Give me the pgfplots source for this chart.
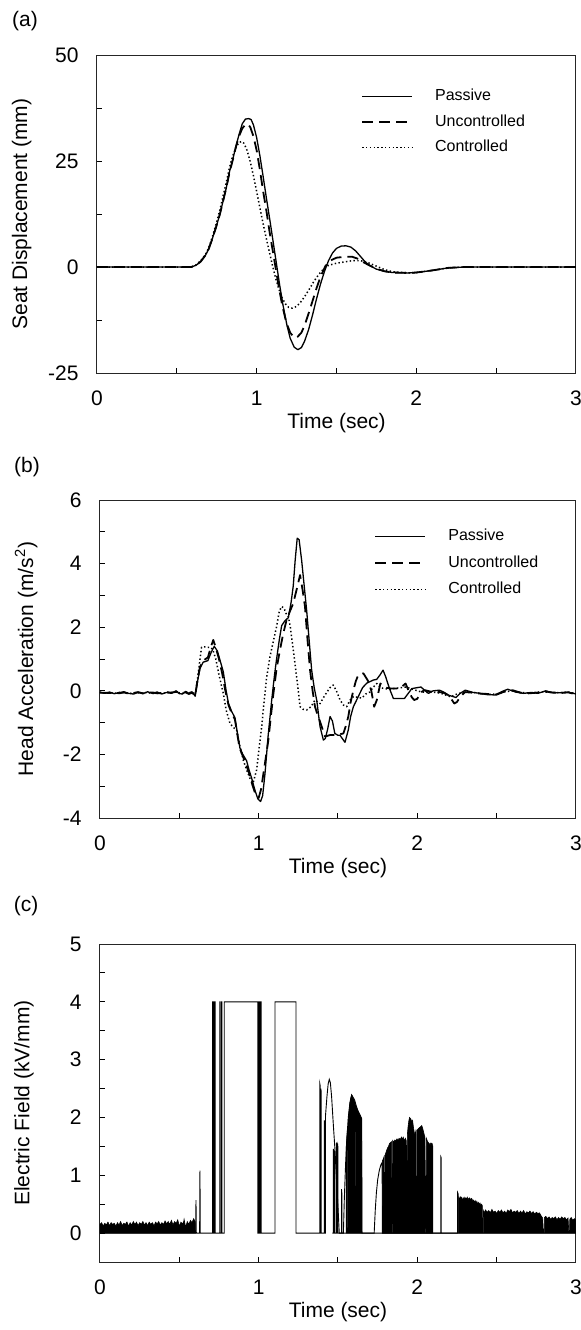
\documentclass[border=0pt]{standalone}
\usepackage{fontspec}
\setmainfont{Liberation Sans}
\usepackage{pgfplots}
\pgfplotsset{compat=1.18}
\begin{document}
\begin{tikzpicture}
\pgfplotsset{
  myax/.style={
    scale only axis,
    height=159pt,
    xmin=0, xmax=3,
    xtick={0,1,2,3}, minor xtick={0.5,1.5,2.5},
    tick pos=left, tick align=inside,
    major tick length=2.5pt, minor tick length=2.5pt,
    every tick/.style={black, line width=0.5pt},
    axis line style={line width=0.5pt, black!85},
    /pgf/number format/assume math mode=true,
    tick label style={font=\fontsize{10.5}{12}\selectfont},
    xticklabel style={anchor=base, yshift=-16pt},
    yticklabel style={anchor=east, inner sep=0pt, xshift=-9pt},
    label style={font=\fontsize{10.5}{12}\selectfont},
    xlabel={Time (sec)},
    xlabel style={at={(axis description cs:0.5,0)}, anchor=base, yshift=-27.5pt},
    legend cell align=left,
    legend image code/.code={\draw[##1] (0pt,0pt) -- (25pt,0pt);},
    legend style={draw=none, fill=none, inner sep=0pt, anchor=west,
      font=\fontsize{8}{9.6}\selectfont,
      nodes={inner sep=0pt, text height=6pt, text depth=1.7pt},
      /tikz/every odd column/.append style={column sep=11pt}},
  },
  pas/.style={black, line width=0.65pt, line join=round},
  unc/.style={black, line width=0.9pt, dash pattern=on 5.5pt off 3pt, line join=round},
  con/.style={black, line width=0.75pt, dash pattern=on 0.7pt off 1.2pt, line join=round},
}
\path[use as bounding box] (0,0) rectangle (290pt,-665pt);
\node at (12.5pt,-10.5pt) {\fontsize{10.5}{12}\selectfont (a)};
\node at (13.5pt,-233.5pt) {\fontsize{10.5}{12}\selectfont (b)};
\node at (13pt,-453pt) {\fontsize{10.5}{12}\selectfont (c)};

% ---------------- (a)
\begin{axis}[myax, at={(48.5pt,-186.5pt)}, anchor=south west, width=239.5pt,
  ymin=-25, ymax=50, ytick={-25,0,25,50}, minor ytick={-12.5,12.5,37.5},
  ylabel={Seat Displacement (mm)},
  ylabel style={at={(axis description cs:-0.157,0.5)}, anchor=center},
  legend style={at={(axis description cs:0.551,0.789)}, row sep=5.05pt}]
\addplot[pas] coordinates {(0,0)(0.3,0)(0.59,0)(0.62,0.4)(0.65,1.3)(0.68,2.8)(0.7,4.3)(0.72,6.4)(0.745,9.3)(0.77,12.5)(0.79,15.6)(0.81,18.7)(0.83,22.5)(0.85,25.3)(0.87,28.5)(0.89,31.3)(0.91,33.8)(0.93,34.9)(0.95,35.0)(0.965,34.8)(0.98,33.5)(1.0,30.5)(1.02,26.3)(1.04,21.5)(1.06,16.5)(1.085,10.5)(1.105,5.5)(1.125,0.5)(1.145,-4.5)(1.165,-9.0)(1.19,-13.8)(1.21,-16.8)(1.235,-18.9)(1.258,-19.5)(1.28,-19.0)(1.3,-17.5)(1.325,-14.8)(1.35,-11.3)(1.375,-7.5)(1.4,-4.0)(1.425,-1.0)(1.45,1.5)(1.475,3.3)(1.5,4.4)(1.53,4.95)(1.56,5.0)(1.59,4.7)(1.62,3.8)(1.65,2.5)(1.68,1.2)(1.71,0.3)(1.75,-0.5)(1.8,-1.0)(1.85,-1.3)(1.95,-1.4)(2.0,-1.3)(2.1,-0.8)(2.2,-0.2)(2.3,0)(3,0)};
\addlegendentry{Passive}
\addplot[unc] coordinates {(0,0)(0.59,0)(0.62,0.4)(0.65,1.3)(0.68,2.8)(0.7,4.3)(0.72,6.4)(0.745,9.3)(0.77,12.5)(0.79,15.6)(0.81,18.7)(0.83,22.3)(0.85,25.2)(0.87,28.3)(0.89,30.9)(0.91,32.7)(0.93,33.6)(0.945,33.7)(0.96,33.0)(0.98,30.8)(1.0,27.5)(1.02,23.0)(1.04,18.0)(1.06,13.5)(1.08,8.5)(1.1,4.0)(1.12,-0.5)(1.14,-5.0)(1.16,-9.0)(1.185,-13.0)(1.21,-15.5)(1.235,-16.6)(1.255,-16.5)(1.28,-15.5)(1.3,-13.8)(1.325,-11.0)(1.35,-8.0)(1.375,-5.0)(1.4,-2.3)(1.43,0.2)(1.46,1.5)(1.5,2.2)(1.55,2.4)(1.6,2.4)(1.63,2.0)(1.66,1.3)(1.7,0.5)(1.75,-0.4)(1.8,-1.0)(1.85,-1.3)(1.95,-1.4)(2.0,-1.3)(2.1,-0.8)(2.2,-0.2)(2.3,0)(3,0)};
\addlegendentry{Uncontrolled}
\addplot[con] coordinates {(0,0)(0.59,0)(0.62,0.5)(0.65,1.5)(0.68,3.0)(0.7,4.6)(0.72,6.8)(0.745,10.0)(0.77,13.5)(0.79,16.8)(0.81,20.0)(0.83,23.5)(0.85,26.2)(0.87,28.2)(0.89,29.4)(0.906,29.6)(0.92,29.2)(0.94,27.5)(0.96,24.8)(0.98,21.5)(1.0,17.8)(1.02,14.0)(1.04,10.3)(1.06,6.8)(1.08,3.5)(1.1,0.2)(1.12,-2.8)(1.14,-5.3)(1.16,-7.3)(1.18,-8.7)(1.2,-9.5)(1.223,-9.7)(1.25,-9.3)(1.275,-8.3)(1.3,-7.0)(1.33,-5.2)(1.36,-3.3)(1.39,-1.7)(1.42,-0.4)(1.45,0.4)(1.5,0.9)(1.55,1.2)(1.6,1.5)(1.65,1.5)(1.7,1.0)(1.75,0.2)(1.8,-0.6)(1.85,-1.1)(1.95,-1.4)(2.0,-1.3)(2.1,-0.8)(2.2,-0.2)(2.3,0)(3,0)};
\addlegendentry{Controlled}
\end{axis}

% ---------------- (b)
\begin{axis}[myax, at={(50pt,-409pt)}, anchor=south west, width=238pt,
  ymin=-4, ymax=6, ytick={-4,-2,0,2,4,6}, minor ytick={-3,-1,1,3,5},
  ylabel={Head Acceleration (m/s\textsuperscript{2})},
  ylabel style={at={(axis description cs:-0.155,0.5)}, anchor=center},
  legend style={at={(axis description cs:0.576,0.802)}, row sep=5.55pt}]
\addplot[pas] coordinates {(0,-0.05)(0.03,-0.08)(0.06,-0.04)(0.09,-0.09)(0.12,-0.06)(0.15,-0.03)(0.18,-0.08)(0.21,-0.1)(0.24,-0.05)(0.27,-0.09)(0.3,-0.03)(0.33,-0.08)(0.36,-0.04)(0.39,-0.1)(0.42,-0.05)(0.45,-0.08)(0.48,0.0)(0.5,-0.09)(0.52,-0.1)(0.54,-0.02)(0.56,-0.08)(0.58,-0.03)(0.6,-0.17)(0.615,0.3)(0.63,0.7)(0.65,0.9)(0.68,0.95)(0.70,1.2)(0.72,1.4)(0.74,1.25)(0.76,0.9)(0.777,0.6)(0.795,0.0)(0.81,-0.4)(0.83,-0.65)(0.851,-0.85)(0.865,-1.3)(0.882,-1.8)(0.9,-2.0)(0.924,-2.2)(0.94,-2.5)(0.956,-2.75)(0.975,-3.1)(0.995,-3.4)(1.012,-3.48)(1.025,-3.3)(1.04,-2.6)(1.06,-1.4)(1.082,-0.3)(1.1,0.5)(1.113,1.0)(1.13,1.6)(1.145,2.05)(1.165,2.2)(1.187,2.3)(1.205,2.8)(1.218,3.3)(1.23,4.1)(1.243,4.8)(1.255,4.75)(1.271,4.1)(1.287,3.3)(1.303,2.5)(1.318,1.6)(1.334,0.65)(1.35,0.1)(1.366,-0.3)(1.387,-1.13)(1.408,-1.55)(1.42,-1.5)(1.435,-1.2)(1.45,-0.81)(1.465,-0.95)(1.48,-1.34)(1.5,-1.4)(1.513,-1.4)(1.544,-1.62)(1.565,-1.23)(1.58,-0.8)(1.597,-0.5)(1.628,-0.18)(1.655,0.1)(1.681,0.24)(1.723,0.34)(1.744,0.36)(1.765,0.5)(1.784,0.65)(1.8,0.45)(1.814,0.23)(1.83,0.0)(1.849,-0.24)(1.919,-0.24)(1.94,-0.1)(1.965,0.07)(2.0,0.1)(2.023,0.12)(2.045,0.02)(2.07,-0.08)(2.1,0.0)(2.14,0.02)(2.17,-0.05)(2.198,-0.14)(2.244,-0.21)(2.27,-0.08)(2.302,0.02)(2.35,-0.05)(2.395,-0.08)(2.44,-0.12)(2.49,-0.13)(2.53,-0.03)(2.57,0.05)(2.62,-0.04)(2.67,-0.08)(2.72,-0.05)(2.76,-0.08)(2.81,0.0)(2.85,-0.06)(2.9,-0.06)(2.95,-0.04)(3.0,-0.1)};
\addlegendentry{Passive}
\addplot[unc] coordinates {(0,-0.06)(0.03,-0.06)(0.06,-0.07)(0.09,-0.05)(0.12,-0.08)(0.15,-0.05)(0.18,-0.09)(0.21,-0.07)(0.24,-0.04)(0.27,-0.08)(0.3,-0.06)(0.33,-0.05)(0.36,-0.08)(0.39,-0.07)(0.42,-0.04)(0.45,-0.06)(0.48,-0.03)(0.5,-0.07)(0.52,-0.06)(0.54,-0.05)(0.56,-0.1)(0.58,-0.06)(0.6,-0.15)(0.615,0.35)(0.63,0.75)(0.65,0.95)(0.68,1.05)(0.70,1.4)(0.714,1.6)(0.73,1.35)(0.75,1.0)(0.77,0.55)(0.79,0.0)(0.81,-0.45)(0.83,-0.7)(0.85,-0.9)(0.865,-1.35)(0.88,-1.8)(0.9,-2.05)(0.92,-2.3)(0.94,-2.6)(0.96,-2.95)(0.98,-3.25)(1.0,-3.37)(1.015,-3.1)(1.03,-2.6)(1.045,-2.1)(1.061,-1.55)(1.077,-0.8)(1.093,-0.08)(1.113,0.7)(1.134,1.28)(1.155,1.8)(1.176,2.23)(1.197,2.5)(1.218,2.75)(1.24,3.2)(1.261,3.64)(1.276,3.2)(1.292,2.65)(1.308,1.6)(1.324,0.65)(1.34,0.0)(1.355,-0.5)(1.371,-0.75)(1.387,-0.97)(1.418,-1.44)(1.45,-1.39)(1.492,-1.39)(1.534,-1.34)(1.55,-1.1)(1.565,-0.81)(1.58,-0.35)(1.597,0.02)(1.612,0.3)(1.628,0.5)(1.66,0.55)(1.692,0.29)(1.71,0.0)(1.728,-0.5)(1.744,-0.3)(1.767,0.23)(1.785,0.15)(1.8,0.1)(1.837,0.07)(1.872,0.07)(1.9,0.12)(1.926,0.23)(1.945,0.0)(1.965,-0.2)(1.98,-0.29)(2.0,-0.25)(2.02,-0.05)(2.047,0.02)(2.08,-0.02)(2.116,-0.03)(2.16,-0.05)(2.2,-0.15)(2.233,-0.4)(2.25,-0.35)(2.27,-0.19)(2.3,-0.04)(2.35,-0.06)(2.4,-0.09)(2.45,-0.1)(2.5,-0.12)(2.55,-0.02)(2.6,0.02)(2.65,-0.06)(2.7,-0.08)(2.75,-0.06)(2.8,-0.02)(2.85,-0.05)(2.9,-0.07)(2.95,-0.05)(3.0,-0.11)};
\addlegendentry{Uncontrolled}
\addplot[con] coordinates {(0,-0.04)(0.03,-0.07)(0.06,-0.05)(0.09,-0.08)(0.12,-0.05)(0.15,-0.06)(0.18,-0.07)(0.21,-0.09)(0.24,-0.06)(0.27,-0.07)(0.3,-0.05)(0.33,-0.09)(0.36,-0.05)(0.39,-0.08)(0.42,-0.06)(0.45,-0.05)(0.48,-0.02)(0.5,-0.06)(0.52,-0.08)(0.54,-0.04)(0.56,-0.06)(0.58,-0.04)(0.6,-0.12)(0.615,0.4)(0.628,0.9)(0.64,1.37)(0.66,1.38)(0.68,1.37)(0.697,1.37)(0.71,1.3)(0.73,1.0)(0.75,0.5)(0.777,-0.08)(0.795,-0.6)(0.819,-1.02)(0.84,-1.15)(0.861,-1.23)(0.88,-1.7)(0.903,-2.18)(0.925,-2.5)(0.945,-2.75)(0.965,-2.9)(0.987,-2.49)(1.003,-1.8)(1.019,-1.13)(1.035,-0.3)(1.05,0.4)(1.071,1.07)(1.09,1.5)(1.113,2.02)(1.13,2.5)(1.145,2.65)(1.16,2.6)(1.175,2.4)(1.187,2.33)(1.2,2.0)(1.215,1.4)(1.229,0.86)(1.245,0.2)(1.261,-0.5)(1.28,-0.58)(1.303,-0.6)(1.33,-0.5)(1.355,-0.29)(1.387,-0.4)(1.41,-0.2)(1.429,-0.05)(1.45,0.1)(1.47,0.18)(1.49,0.0)(1.513,-0.29)(1.535,-0.45)(1.555,-0.5)(1.575,-0.3)(1.597,-0.18)(1.62,-0.2)(1.65,-0.23)(1.675,-0.1)(1.7,-0.04)(1.72,0.1)(1.744,0.23)(1.77,0.1)(1.79,0.07)(1.83,0.05)(1.86,0.08)(1.9,0.1)(1.93,0.12)(1.97,0.05)(2.02,-0.03)(2.06,-0.05)(2.1,-0.04)(2.15,-0.08)(2.21,-0.19)(2.25,-0.1)(2.3,-0.03)(2.35,-0.05)(2.4,-0.08)(2.45,-0.11)(2.5,-0.1)(2.55,-0.03)(2.6,0.0)(2.65,-0.05)(2.7,-0.07)(2.75,-0.05)(2.8,-0.03)(2.85,-0.06)(2.9,-0.06)(2.95,-0.04)(3.0,-0.09)};
\addlegendentry{Controlled}
\end{axis}

% ---------------- (c)
\begin{axis}[myax, at={(50pt,-631pt)}, anchor=south west, width=238pt,
  ymin=-0.5, ymax=5, ytick={0,1,2,3,4,5}, minor ytick={-0.5,0.5,1.5,2.5,3.5,4.5},
  ylabel={Electric Field (kV/mm)},
  ylabel style={at={(axis description cs:-0.16,0.5)}, anchor=center}]
% main switching signal
\addplot[black, line width=0.45pt] coordinates {(0,0)(0.603,0)(0.605,0.57)(0.607,0)(0.628,0)(0.63,1.08)(0.632,0)(0.710,0)(0.710,4)(0.712,4)(0.712,0)(0.717,0)(0.717,4)(0.719,4)(0.719,0)(0.724,0)(0.724,4)(0.726,4)(0.726,0)(0.756,0)(0.756,4)(0.758,4)(0.758,0)(0.766,0)(0.766,4)(0.768,4)(0.768,0)(0.783,0)(0.783,4)(0.995,4)(0.995,0)(0.999,0)(0.999,4)(1.002,4)(1.002,0)(1.006,0)(1.006,4)(1.009,4)(1.009,0)(1.013,0)(1.013,4)(1.016,4)(1.016,0)(1.103,0)(1.103,4)(1.235,4)(1.235,0)(1.385,0)(1.385,2.59)(1.388,2.55)(1.388,0)(1.392,0)(1.392,2.5)(1.394,2.45)(1.394,0)(1.414,0)(1.414,1.95)(1.417,1.9)(1.417,0)(1.421,0)(1.421,2.02)(1.43,2.35)(1.438,2.58)(1.445,2.66)(1.452,2.6)(1.46,2.35)(1.47,1.9)(1.481,1.44)(1.49,0.95)(1.5,0.45)(1.508,0)(1.534,0)(1.54,0.6)(1.548,1.2)(1.556,1.65)(1.565,2.0)(1.575,2.25)(1.586,2.39)(1.595,2.35)(1.605,2.3)(1.615,2.2)(1.628,2.1)(1.638,2.05)(1.649,1.98)(1.651,0)(1.728,0)(1.735,0.4)(1.742,0.7)(1.75,0.92)(1.76,1.08)(1.77,1.18)(1.778,1.22)(1.78,0)(3.0,0)};
% isolated spikes
\addplot[black, line width=0.45pt] coordinates {(1.465,0)(1.470,0)(1.470,1.45)(1.473,1.45)(1.473,0)(1.477,0)(1.477,1.43)(1.479,1.4)(1.479,0)(1.49,0)(1.49,1.55)(1.493,1.56)(1.493,0)(1.497,0)(1.497,1.55)(1.499,1.5)(1.499,0)(1.522,0)(1.522,0.76)(1.524,0.7)(1.524,0)(2.148,0)(2.148,1.32)(2.151,1.3)(2.151,0)(2.254,0)(2.254,0.7)(2.257,0.68)(2.257,0)};
% dense band before 0.6 s
\addplot[fill=black, draw=black, line width=0.3pt] coordinates {(0,0)(0,0.15)(0.01,0.18)(0.02,0.12)(0.03,0.17)(0.04,0.14)(0.05,0.19)(0.054,0.17)(0.055,0)(0.056,0.15)(0.06,0.13)(0.07,0.18)(0.08,0.15)(0.09,0.17)(0.10,0.12)(0.11,0.18)(0.12,0.14)(0.13,0.2)(0.14,0.13)(0.15,0.17)(0.16,0.15)(0.164,0.17)(0.165,0)(0.166,0.16)(0.17,0.19)(0.18,0.12)(0.19,0.18)(0.20,0.14)(0.21,0.2)(0.22,0.15)(0.23,0.19)(0.24,0.13)(0.25,0.18)(0.26,0.15)(0.27,0.2)(0.28,0.14)(0.29,0.18)(0.30,0.13)(0.31,0.19)(0.32,0.15)(0.33,0.18)(0.334,0.16)(0.335,0)(0.336,0.15)(0.34,0.12)(0.35,0.19)(0.36,0.16)(0.37,0.2)(0.38,0.14)(0.39,0.18)(0.40,0.15)(0.41,0.21)(0.42,0.16)(0.43,0.2)(0.44,0.15)(0.45,0.22)(0.46,0.14)(0.47,0.2)(0.48,0.17)(0.49,0.23)(0.50,0.12)(0.51,0.19)(0.52,0.16)(0.524,0.18)(0.525,0)(0.526,0.17)(0.53,0.24)(0.54,0.1)(0.55,0.2)(0.56,0.15)(0.57,0.22)(0.58,0.18)(0.59,0.25)(0.60,0.2)(0.602,0)} \closedcycle;
% dense region under second arc
\addplot[fill=black, draw=black, line width=0.3pt] coordinates {(1.552,0)(1.552,1.5)(1.556,1.65)(1.56,1.82)(1.561,0)(1.563,0)(1.564,1.95)(1.57,2.12)(1.575,2.25)(1.58,2.33)(1.586,2.39)(1.59,2.37)(1.592,0)(1.594,0)(1.596,2.33)(1.605,2.28)(1.61,2.22)(1.613,0)(1.615,2.18)(1.62,2.15)(1.628,2.1)(1.632,2.08)(1.634,0)(1.636,2.05)(1.642,2.02)(1.649,1.98)(1.651,0)} \closedcycle;
% dense region 1.78-2.1 s
\addplot[fill=black, draw=black, line width=0.3pt] coordinates {(1.78,0)(1.78,1.25)(1.785,1.28)(1.79,1.32)(1.792,0)(1.795,0)(1.797,1.35)(1.805,1.42)(1.812,1.47)(1.818,1.5)(1.825,1.55)(1.832,1.57)(1.838,1.58)(1.84,0)(1.843,0)(1.845,1.6)(1.852,1.57)(1.858,1.61)(1.865,1.6)(1.872,1.63)(1.878,1.6)(1.885,1.64)(1.892,1.62)(1.9,1.66)(1.905,1.62)(1.911,1.66)(1.918,1.6)(1.925,1.64)(1.93,1.6)(1.932,0)(1.935,0)(1.937,1.7)(1.942,1.85)(1.947,1.95)(1.951,2.0)(1.958,1.98)(1.965,1.93)(1.97,1.95)(1.976,1.82)(1.981,1.74)(1.985,1.7)(1.99,1.76)(1.993,0)(1.996,0)(1.998,1.78)(2.005,1.8)(2.012,1.82)(2.02,1.84)(2.028,1.86)(2.035,1.8)(2.042,1.72)(2.048,1.66)(2.052,0)(2.055,0)(2.057,1.64)(2.065,1.58)(2.075,1.55)(2.08,1.52)(2.085,1.56)(2.093,1.55)(2.098,1.5)(2.098,0)} \closedcycle;
% dense region 2.26-3 s
\addplot[fill=black, draw=black, line width=0.3pt] coordinates {(2.26,0)(2.26,0.62)(2.265,0.58)(2.27,0.63)(2.275,0.6)(2.28,0.62)(2.285,0.57)(2.29,0.6)(2.295,0.62)(2.3,0.58)(2.305,0.61)(2.31,0.59)(2.315,0.62)(2.32,0.58)(2.325,0.6)(2.33,0.61)(2.335,0.57)(2.34,0.6)(2.345,0.59)(2.35,0.55)(2.355,0.57)(2.36,0.53)(2.365,0.56)(2.37,0.52)(2.375,0.55)(2.38,0.5)(2.385,0.53)(2.39,0.49)(2.395,0.52)(2.4,0.48)(2.405,0.5)(2.41,0.47)(2.411,0)(2.416,0)(2.417,0.38)(2.42,0.35)(2.43,0.4)(2.44,0.36)(2.45,0.39)(2.46,0.35)(2.47,0.41)(2.48,0.36)(2.49,0.38)(2.5,0.34)(2.51,0.39)(2.52,0.36)(2.53,0.4)(2.54,0.35)(2.55,0.38)(2.56,0.34)(2.57,0.4)(2.58,0.37)(2.59,0.41)(2.6,0.35)(2.61,0.38)(2.62,0.36)(2.63,0.39)(2.64,0.34)(2.65,0.38)(2.66,0.35)(2.67,0.39)(2.68,0.33)(2.69,0.37)(2.7,0.35)(2.71,0.38)(2.72,0.34)(2.73,0.37)(2.74,0.33)(2.75,0.36)(2.76,0.34)(2.77,0.35)(2.78,0.3)(2.79,0.26)(2.795,0)(2.8,0)(2.801,0.27)(2.81,0.29)(2.82,0.25)(2.83,0.28)(2.84,0.24)(2.85,0.27)(2.86,0.25)(2.87,0.28)(2.88,0.23)(2.89,0.27)(2.9,0.24)(2.91,0.28)(2.92,0.25)(2.93,0.27)(2.94,0.23)(2.95,0.26)(2.955,0)(2.96,0)(2.961,0.24)(2.97,0.27)(2.98,0.22)(2.99,0.25)(3.0,0.22)(3.0,0)} \closedcycle;
\end{axis}
\end{tikzpicture}
\end{document}
